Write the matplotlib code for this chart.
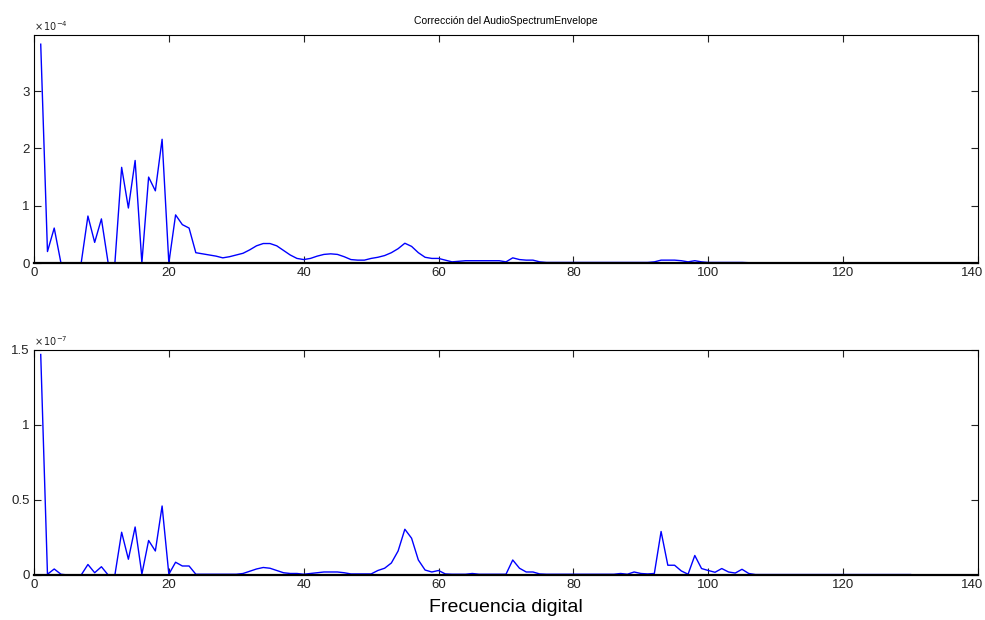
import numpy as np
import matplotlib.pyplot as plt
from matplotlib.ticker import FuncFormatter
from matplotlib.transforms import ScaledTranslation

# frequency bins 1..130
freq = np.arange(1, 131)

# top panel values, in units of 1e-4
env_top = [3.82, 0.20, 0.61, 0.00, 0.00, 0.00, 0.00, 0.82, 0.36, 0.77,
           0.00, 0.00, 1.67, 0.96, 1.79, 0.00, 1.50, 1.26, 2.16, 0.00,
           0.84, 0.67, 0.61, 0.18, 0.16, 0.14, 0.12, 0.09, 0.11, 0.14,
           0.17, 0.23, 0.30, 0.34, 0.34, 0.30, 0.22, 0.14, 0.08, 0.06,
           0.08, 0.12, 0.15, 0.16, 0.15, 0.11, 0.06, 0.05, 0.05, 0.08,
           0.10, 0.13, 0.18, 0.25, 0.345, 0.29, 0.18, 0.10, 0.08, 0.08,
           0.05, 0.02, 0.03, 0.04, 0.04, 0.04, 0.04, 0.04, 0.04, 0.02,
           0.09, 0.06, 0.05, 0.05, 0.02, 0.01, 0.01, 0.01, 0.01, 0.01,
           0.01, 0.01, 0.01, 0.01, 0.01, 0.01, 0.01, 0.01, 0.01, 0.01,
           0.01, 0.02, 0.05, 0.05, 0.05, 0.04, 0.02, 0.04, 0.02, 0.01,
           0.01, 0.01, 0.01, 0.01, 0.01, 0.005, 0.005, 0.005, 0.005, 0.005,
           0.005, 0.005, 0.005, 0.005, 0.005, 0.005, 0.005, 0.005, 0.005, 0.005,
           0.005, 0.005, 0.005, 0.005, 0.005, 0.005, 0.005, 0.005, 0.005, 0.005]

# bottom panel values, in units of 1e-7
env_bot = [1.47, 0.005, 0.04, 0.005, 0.0, 0.0, 0.0, 0.07, 0.015, 0.055,
           0.0, 0.0, 0.285, 0.105, 0.32, 0.005, 0.23, 0.16, 0.46, 0.005,
           0.085, 0.06, 0.06, 0.005, 0.005, 0.005, 0.005, 0.005, 0.005, 0.005,
           0.01, 0.025, 0.04, 0.05, 0.045, 0.03, 0.015, 0.01, 0.01, 0.005,
           0.01, 0.015, 0.02, 0.02, 0.02, 0.015, 0.007, 0.007, 0.007, 0.007,
           0.03, 0.045, 0.08, 0.16, 0.305, 0.245, 0.10, 0.033, 0.02, 0.03,
           0.007, 0.005, 0.005, 0.005, 0.01, 0.005, 0.005, 0.005, 0.005, 0.005,
           0.10, 0.045, 0.02, 0.02, 0.007, 0.005, 0.005, 0.005, 0.005, 0.005,
           0.005, 0.005, 0.005, 0.005, 0.005, 0.005, 0.01, 0.005, 0.02, 0.01,
           0.007, 0.01, 0.29, 0.065, 0.065, 0.027, 0.005, 0.13, 0.043, 0.03,
           0.018, 0.043, 0.02, 0.013, 0.038, 0.01, 0.003, 0.003, 0.003, 0.003,
           0.003, 0.003, 0.003, 0.003, 0.003, 0.003, 0.003, 0.003, 0.003, 0.003,
           0.003, 0.003, 0.003, 0.003, 0.003, 0.003, 0.003, 0.003, 0.003, 0.003]

top_scale = 1e-4
bot_scale = 1e-7
xticks = [0, 20, 40, 60, 80, 100, 120, 140]

plt.rcParams['font.family'] = ['Liberation Sans', 'DejaVu Sans']

fig = plt.figure(figsize=(9.85, 6.2), dpi=100)
ax1 = fig.add_axes([0.0345, 0.5758, 0.9584, 0.3677])
ax2 = fig.add_axes([0.0345, 0.0726, 0.9584, 0.3629])

panels = [(ax1, env_top, top_scale, 3.98, [0, 1, 2, 3], '-4'),
          (ax2, env_bot, bot_scale, 1.5, [0, 0.5, 1, 1.5], '-7')]

for ax, vals, sc, ymax, yt, expo in panels:
    ax.plot(freq, np.array(vals) * sc, color='#0000ff', lw=1.0)
    ax.set_xlim(0, 140)
    ax.set_ylim(0, ymax * sc)
    ax.set_xticks(xticks)
    ax.set_yticks(np.array(yt) * sc)
    ax.yaxis.set_major_formatter(FuncFormatter(lambda v, p, s=sc: '%g' % round(v / s, 3)))
    ax.tick_params(direction='in', length=5, width=0.8, top=True, right=True,
                   labelsize=9.5, colors='#222222', pad=3)
    for sp in ax.spines.values():
        sp.set_linewidth(0.8)
    ax.spines['bottom'].set_linewidth(1.6)
    ax.text(0.0, 1.01, r'$\times\,10^{%s}$' % expo, transform=ax.transAxes,
            fontsize=7, ha='left', va='bottom', color='#222222')
    # last x label sits right at the figure edge, nudge it in a little
    fig.canvas.draw()
    lab = ax.get_xticklabels()[-1]
    lab.set_transform(lab.get_transform() + ScaledTranslation(-6 / 100, 0, fig.dpi_scale_trans))

ax1.set_title('Corrección del AudioSpectrumEnvelope', fontsize=7.5, pad=8)
ax2.set_xlabel('Frecuencia digital', fontsize=14, labelpad=6)

fig.savefig('out.png', dpi=100)
